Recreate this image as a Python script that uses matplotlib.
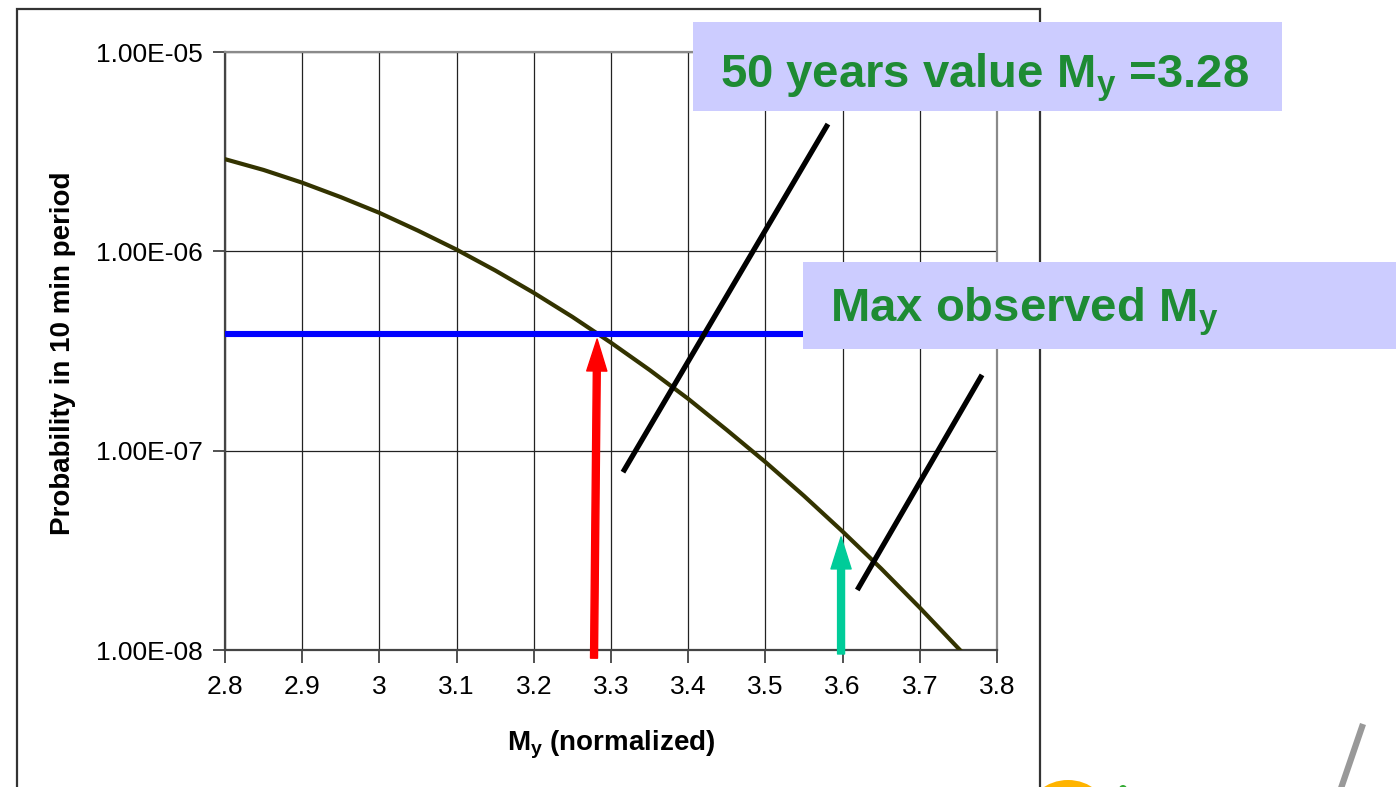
import matplotlib
matplotlib.use("Agg")
import matplotlib.pyplot as plt
from matplotlib.patches import Rectangle, FancyArrowPatch, Ellipse
from matplotlib.lines import Line2D
import matplotlib.ticker as mticker

# ---------------- data ----------------
my_values = [2.8, 2.85, 2.9, 2.95, 3.0, 3.05, 3.1, 3.15, 3.2, 3.25, 3.3,
             3.35, 3.4, 3.45, 3.5, 3.55, 3.6, 3.65, 3.7, 3.752]
probability = [2.90e-6, 2.56e-6, 2.21e-6, 1.87e-6, 1.56e-6, 1.27e-6, 1.02e-6,
               8.02e-7, 6.19e-7, 4.69e-7, 3.48e-7, 2.54e-7, 1.82e-7, 1.27e-7,
               8.77e-8, 5.93e-8, 3.93e-8, 2.56e-8, 1.63e-8, 1.0e-8]

x_ticks = [2.8, 2.9, 3.0, 3.1, 3.2, 3.3, 3.4, 3.5, 3.6, 3.7, 3.8]
x_tick_labels = ["2.8", "2.9", "3", "3.1", "3.2", "3.3", "3.4", "3.5", "3.6", "3.7", "3.8"]
y_ticks = [1e-8, 1e-7, 1e-6, 1e-5]
y_tick_labels = ["1.00E-08", "1.00E-07", "1.00E-06", "1.00E-05"]

fifty_year_level = 3.83e-7            # horizontal blue line
red_arrow_x = [3.278, 3.282]          # 50-year value arrow (bottom, top)
red_arrow_y = [9.1e-9, 3.63e-7]
green_arrow_x = [3.598, 3.598]        # max observed arrow
green_arrow_y = [9.55e-9, 3.69e-8]
pointer1_x = [3.3155, 3.581]
pointer1_y = [7.8e-8, 4.35e-6]
pointer2_x = [3.619, 3.7806]
pointer2_y = [2.0e-8, 2.4e-7]

box1_text = r"50 years value M$_\mathbf{y}$ =3.28"
box2_text = r"Max observed M$_\mathbf{y}$"
x_label = r"M$_\mathbf{y}$ (normalized)"
y_label = "Probability in 10 min period"

# ---------------- style ----------------
plt.rcParams["font.family"] = ["Liberation Sans", "DejaVu Sans"]
plt.rcParams["mathtext.fontset"] = "custom"
plt.rcParams["mathtext.rm"] = "Liberation Sans"
plt.rcParams["mathtext.bf"] = "Liberation Sans:bold"

W, H = 1396, 787
fig = plt.figure(figsize=(W / 100, H / 100), dpi=100)
fig.patch.set_facecolor("white")

def fx(px):
    return px / W

def fy(py):
    return 1 - py / H

# outer frame (chart area border)
fig.add_artist(Rectangle((fx(17), fy(800)), fx(1040) - fx(17), fy(9) - fy(800),
                         transform=fig.transFigure, facecolor="none",
                         edgecolor="#333333", lw=1.6, zorder=0.5))

ax = fig.add_axes([fx(225), fy(650), fx(997) - fx(225), fy(52) - fy(650)])
ax.set_yscale("log")
ax.set_xlim(2.8, 3.8)
ax.set_ylim(1e-8, 1e-5)

ax.set_xticks(x_ticks)
ax.set_xticklabels(x_tick_labels)
ax.set_yticks(y_ticks)
ax.set_yticklabels(y_tick_labels)
ax.yaxis.set_minor_locator(mticker.NullLocator())
ax.tick_params(axis="both", direction="out", length=9, width=1.2, labelsize=19,
               color="#333333")
ax.tick_params(axis="x", pad=9)
ax.tick_params(axis="y", pad=7)
ax.grid(True, which="major", color="#222222", lw=0.9)
ax.set_axisbelow(True)
for s in ["top", "right"]:
    ax.spines[s].set_color("#8a8a8a")
    ax.spines[s].set_linewidth(1.6)
for s in ["left", "bottom"]:
    ax.spines[s].set_color("#444444")
    ax.spines[s].set_linewidth(1.6)

# curve
ax.plot(my_values, probability, color="#333300", lw=3.0, zorder=3,
        solid_joinstyle="round")
# 50-year probability level
ax.plot([2.8, 3.8], [fifty_year_level, fifty_year_level], color="#0000FF", lw=4.4, zorder=4)

# arrows
for xs, ys, col in [(red_arrow_x, red_arrow_y, "#FF0000"),
                    (green_arrow_x, green_arrow_y, "#00CC99")]:
    arr = FancyArrowPatch((xs[0], ys[0]), (xs[1], ys[1]),
                          arrowstyle="simple,head_length=23,head_width=14.5,tail_width=5",
                          mutation_scale=1, color=col, shrinkA=0, shrinkB=0,
                          transform=ax.transData, clip_on=False, zorder=6)
    ax.add_patch(arr)

# black pointer lines
for xs, ys in [(pointer1_x, pointer1_y), (pointer2_x, pointer2_y)]:
    ax.plot(xs, ys, color="black", lw=3.8, solid_capstyle="butt", clip_on=False, zorder=7)

# axis labels
fig.text(fx(63), fy(353), y_label, rotation=90, fontsize=20, fontweight="bold",
         ha="center", va="center")
fig.text(fx(611), fy(745), x_label, fontsize=20, fontweight="bold",
         ha="center", va="center")

# text boxes
green = "#1E8B34"
fig.add_artist(Rectangle((fx(693), fy(111)), fx(1282) - fx(693), fy(22) - fy(111),
                         transform=fig.transFigure, facecolor="#CCCCFF",
                         edgecolor="none", zorder=10))
fig.text(fx(720), fy(87), box1_text, fontsize=34, fontweight="bold", color=green,
         ha="left", va="baseline", zorder=11)
fig.add_artist(Rectangle((fx(803), fy(349)), fx(1396) - fx(803), fy(262) - fy(349),
                         transform=fig.transFigure, facecolor="#CCCCFF",
                         edgecolor="none", zorder=10))
fig.text(fx(830), fy(322), box2_text, fontsize=34, fontweight="bold", color=green,
         ha="left", va="baseline", zorder=11)

# logo fragments bottom right
fig.add_artist(Ellipse((fx(1068), fy(815)), fx(80), 70 / H, transform=fig.transFigure,
                       facecolor="#FFB400", edgecolor="none", zorder=2))
fig.add_artist(Ellipse((fx(1123), fy(789)), fx(8), 8 / H, transform=fig.transFigure,
                       facecolor="#33AA33", edgecolor="none", zorder=2))
fig.add_artist(Line2D([fx(1363), fx(1337)], [fy(724), fy(800)], transform=fig.transFigure,
                      color="#999999", lw=4.5, solid_capstyle="butt", zorder=2))

fig.savefig("out.png", dpi=100)
